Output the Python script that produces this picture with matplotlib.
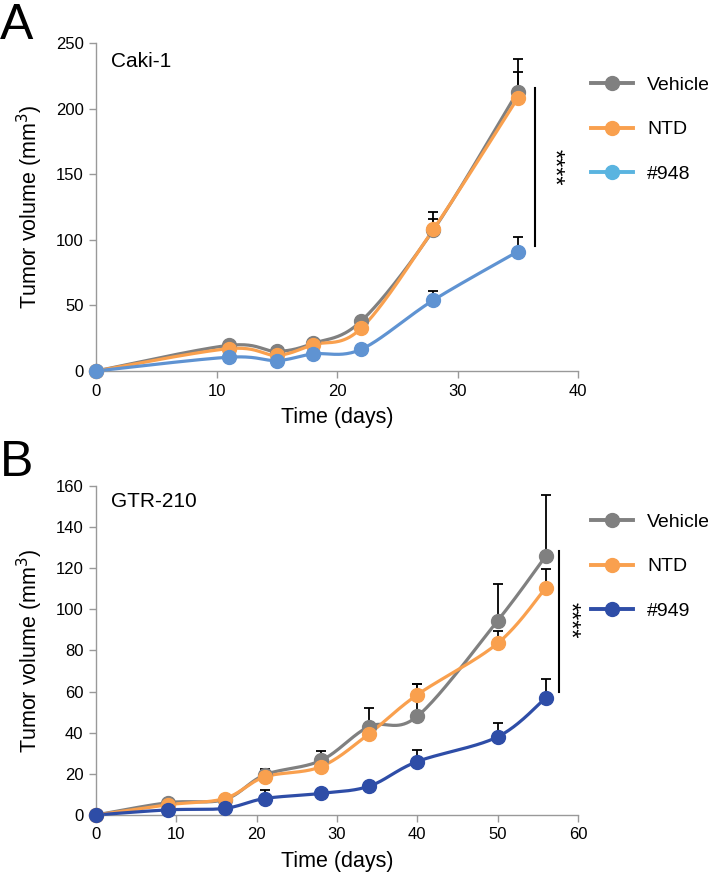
import numpy as np
import matplotlib.pyplot as plt
from matplotlib.lines import Line2D

plt.rcParams['font.family'] = ['Liberation Sans', 'DejaVu Sans']

# Panel A: Caki-1
days_a = [0, 11, 15, 18, 22, 28, 35]
vehicle_a = [0, 19.5, 15, 21, 38, 107.5, 213]
ntd_a = [0, 17, 12, 20, 32.5, 108, 208]
drug_a = [0, 10.5, 8, 13, 16.5, 54, 91]
vehicle_a_err = [0, 0, 0, 0, 0, 14, 24.5]
ntd_a_err = [0, 0, 0, 0, 0, 8, 20]
drug_a_err = [0, 0, 0, 0, 0, 7, 11]

# Panel B: GTR-210
days_b = [0, 9, 16, 21, 28, 34, 40, 50, 56]
vehicle_b = [0, 6, 7.5, 19.5, 26.5, 43, 48, 94.5, 126]
ntd_b = [0, 5, 8, 18.5, 23.5, 39.5, 58.5, 83.5, 110.5]
drug_b = [0, 2.5, 3.2, 8, 10.5, 14, 26, 38, 57]
vehicle_b_err = [0, 0, 0, 3, 4.5, 9, 15.5, 18, 29.5]
ntd_b_err = [0, 0, 0, 0, 0, 0, 5, 6, 9]
drug_b_err = [0, 0, 0, 4, 0, 0, 5.5, 6.5, 9]

c_gray = '#808080'
c_orange = '#F9A04E'
c_blue_a = '#5F93D2'
c_blue_a_leg = '#5AB4E0'
c_blue_b = '#2E4DA7'


def smooth(x, y, n=40):
    # excel style smoothed line (catmull-rom bezier through the points)
    p = np.column_stack([x, y]).astype(float)
    pts = np.vstack([p[0], p, p[-1]])
    out = []
    t = np.linspace(0, 1, n)[:, None]
    for i in range(1, len(pts) - 2):
        p0, p1, p2, p3 = pts[i - 1], pts[i], pts[i + 1], pts[i + 2]
        c1 = p1 + (p2 - p0) / 6
        c2 = p2 - (p3 - p1) / 6
        seg = ((1 - t) ** 3) * p1 + 3 * ((1 - t) ** 2) * t * c1 + 3 * (1 - t) * t ** 2 * c2 + t ** 3 * p2
        out.append(seg)
    out = np.vstack(out)
    return out[:, 0], out[:, 1]


def draw_panel(ax, days, series, errs, colors, xmax, ymax, yticks, xticks):
    for vals, err, col in zip(series, errs, colors):
        e = np.array(err, dtype=float)
        mask = e > 0
        ax.errorbar(np.array(days)[mask], np.array(vals)[mask],
                    yerr=[np.zeros(mask.sum()), e[mask]], fmt='none',
                    ecolor='black', elinewidth=1.3, capsize=3.5, capthick=1.3,
                    zorder=2)
    for vals, col in zip(series, colors):
        sx, sy = smooth(days, vals)
        ax.plot(sx, sy, color=col, lw=2.3, zorder=3, clip_on=False)
        ax.plot(days, vals, 'o', color=col, ms=10, zorder=4, clip_on=False)
    ax.set_xlim(0, xmax)
    ax.set_ylim(0, ymax)
    ax.set_xticks(xticks)
    ax.set_yticks(yticks)
    for s in ['top', 'right']:
        ax.spines[s].set_visible(False)
    for s in ['left', 'bottom']:
        ax.spines[s].set_color('#999999')
        ax.spines[s].set_linewidth(1.0)
    ax.tick_params(direction='out', length=5, width=1, color='#999999',
                   labelsize=12, pad=4)
    ax.set_xlabel('Time (days)', fontsize=15.5)
    ax.set_ylabel('Tumor volume (mm$^3$)', fontsize=15.5)
    ax.yaxis.set_label_coords(-0.105, 0.5)


fig = plt.figure(figsize=(7.08, 8.75), dpi=100)

ax_a = fig.add_axes([0.1356, 0.576, 0.6808, 0.3749])
draw_panel(ax_a, days_a, [vehicle_a, ntd_a, drug_a],
           [vehicle_a_err, ntd_a_err, drug_a_err],
           [c_gray, c_orange, c_blue_a], 40, 250,
           [0, 50, 100, 150, 200, 250], [0, 10, 20, 30, 40])
ax_a.xaxis.set_label_coords(0.5, -0.11)
ax_a.text(0.031, 0.942, 'Caki-1', transform=ax_a.transAxes, fontsize=15,
          va='center', ha='left')
ax_a.plot([36.4, 36.4], [95.5, 215.5], color='black', lw=1.5, clip_on=False)
ax_a.text(37.9, 155.5, '****', rotation=-90, fontsize=17,
          ha='center', va='center', clip_on=False)

ax_b = fig.add_axes([0.1356, 0.0686, 0.6808, 0.376])
draw_panel(ax_b, days_b, [vehicle_b, ntd_b, drug_b],
           [vehicle_b_err, ntd_b_err, drug_b_err],
           [c_gray, c_orange, c_blue_b], 60, 160,
           [0, 20, 40, 60, 80, 100, 120, 140, 160],
           [0, 10, 20, 30, 40, 50, 60])
ax_b.xaxis.set_label_coords(0.5, -0.11)
ax_b.text(0.031, 0.952, 'GTR-210', transform=ax_b.transAxes, fontsize=15,
          va='center', ha='left')
ax_b.plot([57.6, 57.6], [59.7, 128.4], color='black', lw=1.5, clip_on=False)
ax_b.text(58.9, 94.5, '****', rotation=-90, fontsize=17,
          ha='center', va='center', clip_on=False)

labels = ['Vehicle', 'NTD']


def add_legend(names, colors, top_px):
    handles = [Line2D([], [], color=c, lw=2.8, marker='o', ms=10) for c in colors]
    fig.legend(handles, names, loc='upper left',
               bbox_to_anchor=(591 / 708, 1 - top_px / 875),
               bbox_transform=fig.transFigure, frameon=False, fontsize=14,
               handlelength=2.15, handletextpad=0.75, labelspacing=1.4,
               borderpad=0, borderaxespad=0)


add_legend(labels + ['#948'], [c_gray, c_orange, c_blue_a_leg], 76)
add_legend(labels + ['#949'], [c_gray, c_orange, c_blue_b], 513)

fig.text(0.0, 1 - 3 / 875, 'A', fontsize=36, va='top', ha='left')
fig.text(0.0, 1 - 440 / 875, 'B', fontsize=36, va='top', ha='left')

fig.savefig('out.png', dpi=100)
